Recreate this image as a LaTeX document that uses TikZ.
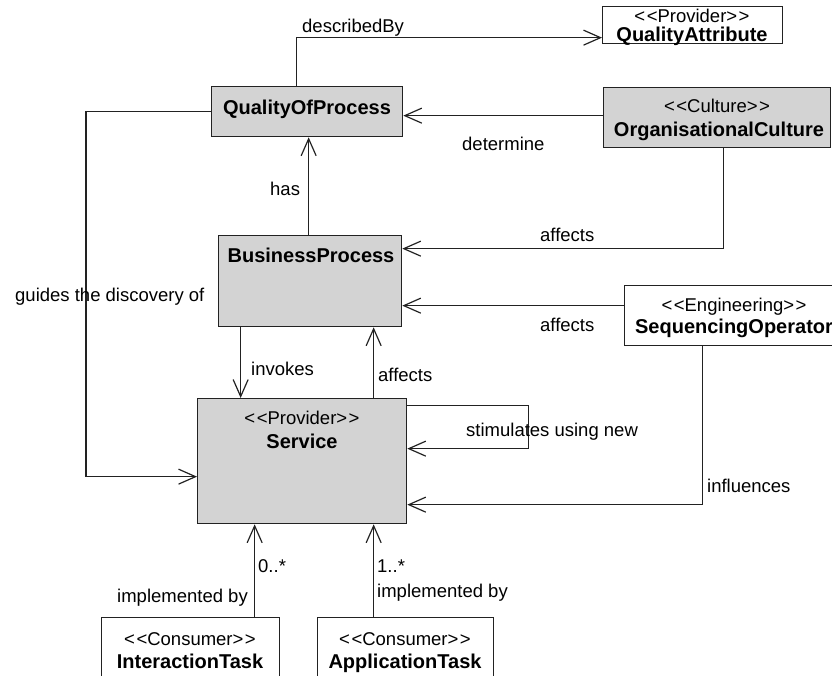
\documentclass[tikz,border=0pt]{standalone}
\usepackage{fontspec}
\setmainfont{Liberation Sans}
\usetikzlibrary{arrows.meta,calc}
\definecolor{boxgray}{HTML}{D3D3D3}
\definecolor{ink}{HTML}{222222}
% UML stereotype in guillemet-free form: <<name>>
\newcommand\stname[1]{<\kern1.5pt<#1>\kern1.5pt>}
\begin{document}
\begin{tikzpicture}[x=1pt,y=-1pt,
  box/.style={draw=ink, line width=1.3pt, rectangle, inner sep=0pt, anchor=north west},
  shaded/.style={box, fill=boxgray},
  plain/.style={box, fill=white},
  stereo/.style={anchor=base, inner sep=0pt, text=black, font=\fontsize{18.5}{20}\selectfont},
  cname/.style={anchor=base, inner sep=0pt, text=black, font=\fontsize{20}{22}\selectfont\bfseries},
  lbl/.style={anchor=base west, inner sep=0pt, text=black, font=\fontsize{18.5}{20}\selectfont},
  lblr/.style={lbl, anchor=base east},
  conn/.style={draw=ink, line width=1.2pt},
  arr/.style={conn, -{Straight Barb[length=17pt,width=15pt,line width=1.2pt]}}
]
\useasboundingbox (0,0) rectangle (832,675);
\clip (0,0) rectangle (832,675);

% classes
\node[plain,  minimum width=180pt, minimum height=37pt]  (qa)  at (602,6)   {};
\node[shaded, minimum width=191pt, minimum height=50pt]  (qop) at (211,86)  {};
\node[shaded, minimum width=227pt, minimum height=60pt]  (oc)  at (603,87)  {};
\node[shaded, minimum width=183pt, minimum height=91pt]  (bp)  at (218,235) {};
\node[plain,  minimum width=220pt, minimum height=60pt]  (so)  at (624,285) {};
\node[shaded, minimum width=209pt, minimum height=125pt] (svc) at (197,398) {};
\node[plain,  minimum width=178pt, minimum height=80pt]  (it)  at (101,617) {};
\node[plain,  minimum width=176pt, minimum height=80pt]  (at)  at (317,617) {};

% class titles
\node[stereo] (qaS)  at (692,22)    {\stname{Provider}};
\node[cname]  (qaN)  at (692,41.5)  {QualityAttribute};
\node[cname]  (qopN) at (307,114)   {QualityOfProcess};
\node[stereo] (ocS)  at (717,112)   {\stname{Culture}};
\node[cname]  (ocN)  at (719,136)   {OrganisationalCulture};
\node[cname]  (bpN)  at (311,262)   {BusinessProcess};
\node[stereo] (soS)  at (734,311)   {\stname{Engineering}};
\node[cname]  (soN)  at (734,333)   {SequencingOperator};
\node[stereo] (svcS) at (302,424)   {\stname{Provider}};
\node[cname]  (svcN) at (302,448)   {Service};
\node[stereo] (itS)  at (190,645)   {\stname{Consumer}};
\node[cname]  (itN)  at (190,668)   {InteractionTask};
\node[stereo] (atS)  at (405,645)   {\stname{Consumer}};
\node[cname]  (atN)  at (405,668)   {ApplicationTask};

% associations
\draw[arr] ([xshift=-10.5pt]qop.north) |- ([yshift=-12.5pt]qa.west);
\draw[arr] ([yshift=2pt]oc.west) -- ([yshift=2pt]oc.west -| qop.east);
\draw[arr] ([xshift=6.5pt]oc.south) |- ([yshift=32.5pt]bp.east);
\draw[arr] ([yshift=10pt]so.west) -- ([yshift=10pt]so.west -| bp.east);
\draw[arr] ([xshift=-1.5pt]bp.north) -- ([xshift=-1.5pt]bp.north |- qop.south);
\draw[arr] ([xshift=-69.5pt]bp.south) -- ([xshift=-69.5pt]bp.south |- svc.north);
\draw[arr] ([xshift=71.5pt]svc.north) -- ([xshift=71.5pt]svc.north |- bp.south);
\draw[arr] ([yshift=55.5pt]svc.east) -- ++(121,0) -- ++(0,43) -- ([yshift=12.5pt]svc.east);
\draw[arr] (qop.west) -- ++(-125,0) |- ([yshift=-15.5pt]svc.west);
\draw[arr] ([xshift=-32pt]so.south) |- ([yshift=-43.5pt]svc.east);
\draw[arr] ([xshift=64pt]it.north) -- ([xshift=64pt]it.north |- svc.south);
\draw[arr] ([xshift=-32pt]at.north) -- ([xshift=-32pt]at.north |- svc.south);

% association labels
\node[lbl]  (lDesc)  at (302,32)  {describedBy};
\node[lbl]  (lDet)   at (462,150) {determine};
\node[lbl]  (lAffOC) at (540,241) {affects};
\node[lbl]  (lHas)   at (270,195) {has};
\node[lbl]  (lGuide) at (15,301)  {guides the discovery of};
\node[lbl]  (lAffSO) at (540,331) {affects};
\node[lbl]  (lInv)   at (251,375) {invokes};
\node[lbl]  (lAffSv) at (378,381) {affects};
\node[lbl]  (lStim)  at (466,436) {stimulates using new};
\node[lbl]  (lInfl)  at (707,492) {influences};
\node[lbl]  (lMulI)  at (258,572) {0..*};
\node[lbl]  (lMulA)  at (377,572) {1..*};
\node[lblr] (lImpI)  at (248,602) {implemented by};
\node[lbl]  (lImpA)  at (377,597) {implemented by};
\end{tikzpicture}
\end{document}
